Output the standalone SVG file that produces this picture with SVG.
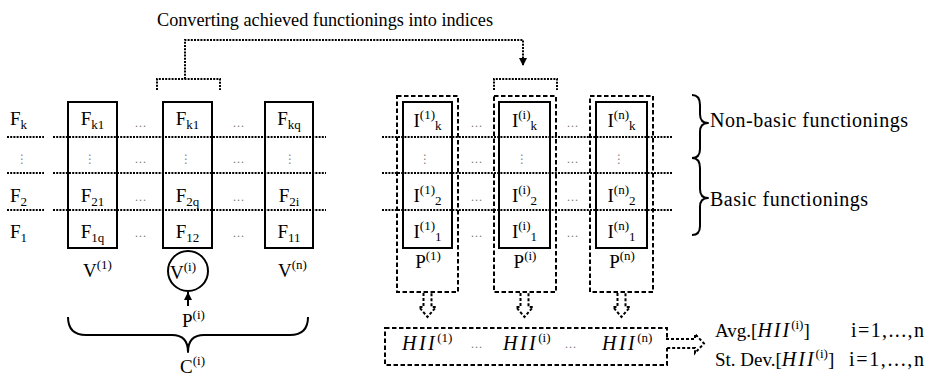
<svg xmlns="http://www.w3.org/2000/svg" width="929" height="376" viewBox="0 0 929 376" font-family="'Liberation Serif', serif">
<style>
.t{font-family:"Liberation Serif","Times New Roman",serif;font-size:19px;fill:#000}
.s{font-size:13px}
.it{font-style:italic;font-size:20px}
.el{font-family:"Liberation Serif",serif;font-size:12px;fill:#777;letter-spacing:1px}
.vd{font-family:"DejaVu Sans",sans-serif;font-size:12px;fill:#888}
.grid{stroke:#000;stroke-width:2;stroke-dasharray:2 1.2;fill:none}
.dot{stroke:#000;stroke-width:2;stroke-dasharray:2 1.2;fill:none}
.dash{stroke:#000;stroke-width:2;stroke-dasharray:4.5 2.5;fill:none}
.harr{stroke:#000;stroke-width:2;stroke-dasharray:3 2;fill:#fff}
.solid{stroke:#000;stroke-width:2;fill:none}
.brace{stroke:#000;stroke-width:2;fill:none;stroke-linejoin:round}
</style>
<defs>
<marker id="tri" viewBox="0 0 10 10" refX="10" refY="5" markerWidth="8" markerHeight="8" markerUnits="userSpaceOnUse" orient="auto">
<path d="M0,0 L10,5 L0,10 Z" fill="#000"/>
</marker>
</defs>
<rect width="929" height="376" fill="#fff"/>

<text id="title" class="t" x="157" y="26" textLength="336" lengthAdjust="spacingAndGlyphs" style="font-size:18px">Converting achieved functionings into indices</text>

<g id="grid">
<line class="grid" x1="7" y1="137" x2="44" y2="137"/>
<line class="grid" x1="7" y1="173" x2="44" y2="173"/>
<line class="grid" x1="7" y1="210" x2="44" y2="210"/>
<line class="grid" x1="53" y1="137" x2="326" y2="137"/>
<line class="grid" x1="53" y1="173" x2="326" y2="173"/>
<line class="grid" x1="53" y1="210" x2="326" y2="210"/>
<line class="grid" x1="382" y1="137" x2="673" y2="137"/>
<line class="grid" x1="382" y1="173" x2="673" y2="173"/>
<line class="grid" x1="382" y1="210" x2="673" y2="210"/>
</g>

<g id="row-labels">
<text class="t" x="10" y="125">F<tspan class="s" dy="4">k</tspan></text>
<text class="vd" x="16" y="163">⋮</text>
<text class="t" x="10" y="202">F<tspan class="s" dy="4">2</tspan></text>
<text class="t" x="10" y="238">F<tspan class="s" dy="4">1</tspan></text>
</g>

<g id="V1">
<rect class="solid" x="68" y="102" width="49" height="146"/>
<text class="t" x="92.5" y="125" text-anchor="middle">F<tspan class="s" dy="4">k1</tspan></text>
<text class="vd" x="84" y="163">⋮</text>
<text class="t" x="92.5" y="202" text-anchor="middle">F<tspan class="s" dy="4">21</tspan></text>
<text class="t" x="92.5" y="238" text-anchor="middle">F<tspan class="s" dy="4">1q</tspan></text>
<text class="t" x="83" y="277">V<tspan class="s" dy="-8">(1)</tspan></text>
</g>

<g id="Vi">
<rect class="solid" x="163" y="102" width="49" height="146"/>
<text class="t" x="187.5" y="125" text-anchor="middle">F<tspan class="s" dy="4">k1</tspan></text>
<text class="vd" x="180" y="163">⋮</text>
<text class="t" x="187.5" y="202" text-anchor="middle">F<tspan class="s" dy="4">2q</tspan></text>
<text class="t" x="187.5" y="238" text-anchor="middle">F<tspan class="s" dy="4">12</tspan></text>
<circle class="solid" cx="188" cy="271" r="20"/>
<text class="t" x="170" y="279">V<tspan class="s" dy="-8">(i)</tspan></text>
</g>

<g id="Vn">
<rect class="solid" x="265" y="102" width="48" height="146"/>
<text class="t" x="289" y="125" text-anchor="middle">F<tspan class="s" dy="4">kq</tspan></text>
<text class="vd" x="284" y="163">⋮</text>
<text class="t" x="289" y="202" text-anchor="middle">F<tspan class="s" dy="4">2i</tspan></text>
<text class="t" x="289" y="238" text-anchor="middle">F<tspan class="s" dy="4">11</tspan></text>
<text class="t" x="278" y="277">V<tspan class="s" dy="-8">(n)</tspan></text>
</g>

<g id="left-ellipses">
<text class="el" x="141" y="127" text-anchor="middle">...</text>
<text class="el" x="141" y="163" text-anchor="middle">...</text>
<text class="el" x="141" y="201" text-anchor="middle">...</text>
<text class="el" x="141" y="237" text-anchor="middle">...</text>
<text class="el" x="239" y="127" text-anchor="middle">...</text>
<text class="el" x="239" y="163" text-anchor="middle">...</text>
<text class="el" x="239" y="201" text-anchor="middle">...</text>
<text class="el" x="239" y="237" text-anchor="middle">...</text>
</g>

<g id="Pi-label">
<text class="t" x="182" y="327">P<tspan class="s" dy="-8">(i)</tspan></text>
</g>

<g id="C-brace">
<path class="brace" d="M68,317 Q68,335 86,335 L172,335 Q188,335 188,352 Q188,335 204,335 L290,335 Q308,335 308,317"/>
<text class="t" x="180" y="373">C<tspan class="s" dy="-8">(i)</tspan></text>
</g>

<g id="P1">
<rect class="dash" x="397" y="96" width="61" height="196"/>
<rect class="solid" x="403" y="102" width="49" height="146"/>
<text class="t" x="427.5" y="127" text-anchor="middle">I<tspan class="s" dy="-8">(1)</tspan><tspan class="s" dy="11">k</tspan></text>
<text class="vd" x="419" y="163">⋮</text>
<text class="t" x="427.5" y="202" text-anchor="middle">I<tspan class="s" dy="-8">(1)</tspan><tspan class="s" dy="11">2</tspan></text>
<text class="t" x="427.5" y="238" text-anchor="middle">I<tspan class="s" dy="-8">(1)</tspan><tspan class="s" dy="11">1</tspan></text>
<text class="t" x="428" y="268" text-anchor="middle">P<tspan class="s" dy="-8">(1)</tspan></text>
</g>

<g id="Pi">
<rect class="dash" x="494" y="96" width="62" height="196"/>
<rect class="solid" x="499" y="102" width="51" height="146"/>
<text class="t" x="524.5" y="127" text-anchor="middle">I<tspan class="s" dy="-8">(i)</tspan><tspan class="s" dy="11">k</tspan></text>
<text class="vd" x="516" y="163">⋮</text>
<text class="t" x="524.5" y="202" text-anchor="middle">I<tspan class="s" dy="-8">(i)</tspan><tspan class="s" dy="11">2</tspan></text>
<text class="t" x="524.5" y="238" text-anchor="middle">I<tspan class="s" dy="-8">(i)</tspan><tspan class="s" dy="11">1</tspan></text>
<text class="t" x="525" y="268" text-anchor="middle">P<tspan class="s" dy="-8">(i)</tspan></text>
</g>

<g id="Pn">
<rect class="dash" x="590" y="96" width="63" height="196"/>
<rect class="solid" x="596" y="102" width="51" height="146"/>
<text class="t" x="621.5" y="127" text-anchor="middle">I<tspan class="s" dy="-8">(n)</tspan><tspan class="s" dy="11">k</tspan></text>
<text class="vd" x="613" y="163">⋮</text>
<text class="t" x="621.5" y="202" text-anchor="middle">I<tspan class="s" dy="-8">(n)</tspan><tspan class="s" dy="11">2</tspan></text>
<text class="t" x="621.5" y="238" text-anchor="middle">I<tspan class="s" dy="-8">(n)</tspan><tspan class="s" dy="11">1</tspan></text>
<text class="t" x="622" y="268" text-anchor="middle">P<tspan class="s" dy="-8">(n)</tspan></text>
</g>

<g id="right-ellipses">
<text class="el" x="477" y="127" text-anchor="middle">...</text>
<text class="el" x="477" y="163" text-anchor="middle">...</text>
<text class="el" x="477" y="201" text-anchor="middle">...</text>
<text class="el" x="477" y="237" text-anchor="middle">...</text>
<text class="el" x="573" y="127" text-anchor="middle">...</text>
<text class="el" x="573" y="163" text-anchor="middle">...</text>
<text class="el" x="573" y="201" text-anchor="middle">...</text>
<text class="el" x="573" y="237" text-anchor="middle">...</text>
</g>

<g id="functioning-braces">
<path class="brace" d="M692,95 Q700,95 700,105 L700,114 Q700,123 708,123 Q700,123 700,132 L700,149 Q700,158 692,158"/>
<path class="brace" d="M692,158 Q700,158 700,168 L700,189 Q700,198 708,198 Q700,198 700,207 L700,226 Q700,235 692,235"/>
<text class="t" x="710" y="127" textLength="198" style="font-size:20px">Non-basic functionings</text>
<text class="t" x="710" y="206" textLength="158" style="font-size:20px">Basic functionings</text>
</g>

<g id="HII">
<rect class="dash" x="385" y="328" width="282" height="37"/>
<text class="t" x="402" y="350"><tspan class="it" letter-spacing="2.5">HII</tspan><tspan class="s" dy="-8">(1)</tspan></text>
<text class="el" x="477" y="348" text-anchor="middle">...</text>
<text class="t" x="503" y="350"><tspan class="it" letter-spacing="2.5">HII</tspan><tspan class="s" dy="-8">(i)</tspan></text>
<text class="el" x="571" y="348" text-anchor="middle">...</text>
<text class="t" x="602" y="350"><tspan class="it" letter-spacing="2.5">HII</tspan><tspan class="s" dy="-8">(n)</tspan></text>
</g>

<g id="stats">
<text class="t" x="715" y="337">Avg.[<tspan class="it" letter-spacing="2">HII</tspan><tspan class="s" dy="-8">(i)</tspan><tspan dy="8">]</tspan></text>
<text class="t" x="851" y="337" textLength="73" style="font-size:20px">i=1,...,n</text>
<text class="t" x="715" y="366">St. Dev.[<tspan class="it" letter-spacing="2">HII</tspan><tspan class="s" dy="-8">(i)</tspan><tspan dy="8">]</tspan></text>
<text class="t" x="849" y="366" textLength="75" style="font-size:20px">i=1,...,n</text>
</g>

<g id="connectors">
<polyline class="dot" points="185,79 185,40 523,40 523,66" marker-end="url(#tri)"/>
<polyline class="dot" points="157,90 157,79 220,79 220,90"/>
<polyline class="dot" points="494,90 494,79 557,79 557,90"/>
<line x1="188" y1="306" x2="188" y2="292" stroke="#000" stroke-width="2" marker-end="url(#tri)"/>
<path class="harr" d="M423.5,293 V307 H419 L427.5,317 L436,307 H431.5 V293"/>
<path class="harr" d="M520.5,293 V307 H516 L524.5,317 L533,307 H528.5 V293"/>
<path class="harr" d="M617.5,293 V307 H613 L621.5,317 L630,307 H625.5 V293"/>
<path class="harr" d="M666,339 H695 V334 L704,343.5 L695,353 V348 H666"/>
</g>
</svg>
